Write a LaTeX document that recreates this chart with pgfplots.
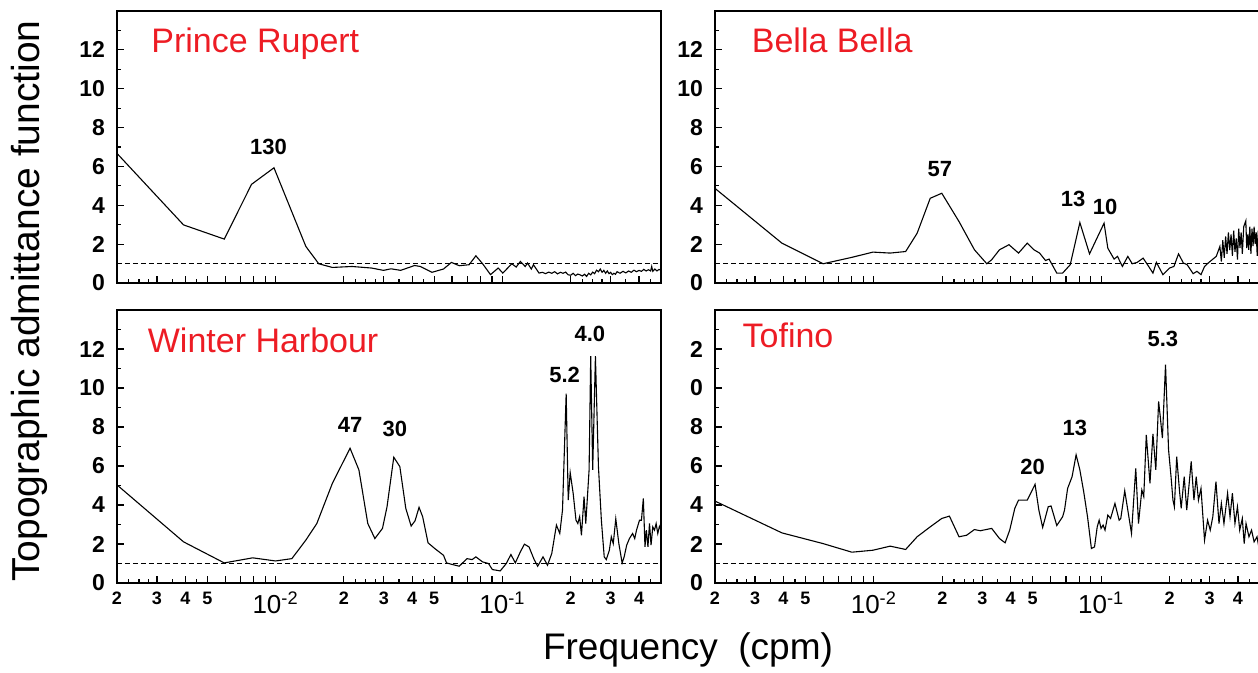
\documentclass[border=0pt]{standalone}
\usepackage{fontspec}
\setmainfont{Liberation Sans}
\usepackage{pgfplots}
\pgfplotsset{compat=1.18}
\definecolor{lblred}{RGB}{237,28,36}

\tikzset{
 curveln/.style={black, line width=0.55bp},
 reflln/.style={black, line width=0.55bp, dash pattern=on 2.5bp off 1.5bp},
 peaklbl/.style={font=\bfseries\fontsize{11bp}{12bp}\selectfont},
 ttllbl/.style={anchor=base west, inner sep=0pt, text=lblred, font=\fontsize{17bp}{20bp}\selectfont},
}
\newcommand{\dec}[1]{{\mdseries\fontsize{13bp}{14bp}\selectfont 10\textsuperscript{#1}}}

\pgfplotsset{
 every axis/.append style={
  scale only axis,
  xmode=log, xmin=0.002, xmax=0.5, ymin=0, ymax=14,
  axis line style={line width=1bp},
  tick pos=left, tick align=inside,
  tick style={black, line width=0.6bp},
  major tick length=3.4bp, minor tick length=1.9bp,
  ytick={0,2,4,6,8,10,12}, minor ytick={1,3,5,7,9,11,13},
  yticklabel style={font=\bfseries\fontsize{11.5bp}{12bp}\selectfont, xshift=-2.5bp},
  xtick={0.002,0.003,0.004,0.005,0.006,0.007,0.008,0.009,0.01,0.02,0.03,0.04,0.05,0.06,0.07,0.08,0.09,0.1,0.2,0.3,0.4,0.5},
  minor xtick={0.00225,0.0025,0.00275,0.0035,0.0045,0.0225,0.025,0.0275,0.035,0.045,0.225,0.25,0.275,0.35,0.45},
  xticklabel style={font=\bfseries\fontsize{9bp}{10bp}\selectfont, anchor=north, yshift=-1bp},
 },
}

\begin{document}
\begin{tikzpicture}
\useasboundingbox (0,0) rectangle (629bp,336.5bp);

% ---------------- Prince Rupert ----------------
\begin{axis}[width=272bp, height=136bp, at={(58.5bp,195bp)}, anchor=south west,
  yticklabels={0,2,4,6,8,10,12}, xticklabels={}]
\addplot[reflln] coordinates {(0.002,1) (0.5,1)};
\addplot[curveln] coordinates {
(0.002,6.67) (0.00393,2.99) (0.00594,2.26) (0.00784,5.08) (0.00984,5.93) (0.0136,1.88) (0.0155,0.99) (0.0178,0.80) (0.0217,0.85) (0.0265,0.77) (0.0299,0.65) (0.0323,0.73) (0.0356,0.65) (0.041,0.9) (0.0435,0.85) (0.0489,0.55) (0.055,0.72) (0.0596,1.06) (0.0645,0.89) (0.0713,0.94) (0.0764,1.40) (0.0818,0.99) (0.0886,0.43) (0.0958,0.77) (0.1004,0.51) (0.110,0.99) (0.115,0.82) (0.120,1.11) (0.126,0.85) (0.129,1.03) (0.134,0.72) (0.137,0.94) (0.145,0.51)
(0.15,0.55) (0.155,0.48) (0.16,0.56) (0.165,0.5) (0.17,0.58) (0.175,0.47) (0.18,0.55) (0.185,0.5) (0.19,0.56) (0.195,0.42) (0.2,0.4) (0.205,0.5) (0.21,0.38) (0.215,0.46) (0.22,0.42) (0.225,0.36) (0.23,0.45) (0.235,0.34) (0.24,0.5) (0.245,0.42) (0.25,0.56) (0.255,0.48) (0.26,0.66) (0.265,0.58) (0.27,0.72) (0.275,0.55) (0.28,0.65) (0.285,0.5) (0.29,0.62) (0.295,0.48) (0.3,0.55) (0.305,0.43) (0.31,0.5) (0.315,0.45) (0.32,0.58) (0.33,0.5) (0.34,0.6) (0.35,0.52) (0.36,0.62) (0.37,0.55) (0.38,0.66) (0.39,0.58) (0.4,0.65) (0.41,0.6) (0.42,0.7) (0.43,0.62) (0.44,0.68) (0.45,0.62) (0.455,0.85) (0.46,0.6) (0.47,0.72) (0.48,0.62) (0.49,0.7) (0.5,0.65)
};
\node[ttllbl] at (rel axis cs:0.0625,0.849) {Prince Rupert};
\node[peaklbl] at (axis cs:0.0093,7.0) {130};
\end{axis}

% ---------------- Bella Bella ----------------
\begin{axis}[width=272.5bp, height=136bp, at={(357.5bp,195bp)}, anchor=south west,
  yticklabels={0,2,4,6,8,10,12}, xticklabels={}]
\addplot[reflln] coordinates {(0.002,1) (0.5,1)};
\addplot[curveln] coordinates {
(0.002,4.87) (0.00394,2.05) (0.00598,0.99) (0.008,1.32) (0.0099,1.59) (0.0118,1.54) (0.0138,1.62) (0.0155,2.56) (0.0177,4.36) (0.0199,4.62) (0.0237,3.16) (0.0277,1.71) (0.0314,0.99) (0.033,1.2) (0.0357,1.71) (0.0393,1.97) (0.0433,1.54) (0.0473,2.05) (0.0506,1.71) (0.0536,1.54) (0.0569,1.16) (0.059,1.23) (0.0638,0.51) (0.0677,0.51) (0.0731,0.94) (0.0806,3.11) (0.0889,1.50) (0.103,3.08) (0.107,1.79) (0.114,1.23) (0.118,1.37) (0.124,0.85) (0.131,1.37) (0.137,0.99) (0.144,1.06) (0.153,1.28) (0.16,0.94) (0.169,0.51) (0.175,1.06) (0.187,0.43) (0.2,0.77) (0.209,0.85) (0.219,1.50) (0.23,1.03) (0.239,0.94) (0.254,0.48) (0.264,0.6) (0.275,0.43) (0.285,0.85) (0.296,1.03) (0.308,1.2) (0.321,1.37) (0.333,1.88)
(0.338,1.1) (0.343,2.2) (0.348,1.3) (0.353,2.4) (0.358,1.5) (0.363,2.6) (0.368,1.7) (0.373,2.5) (0.378,1.4) (0.383,2.7) (0.388,1.6) (0.393,2.3) (0.398,1.2) (0.403,2.8) (0.408,1.8) (0.413,2.6) (0.418,1.5) (0.424,2.9) (0.433,3.2) (0.437,1.8) (0.442,2.5) (0.446,1.7) (0.451,2.9) (0.456,1.5) (0.461,2.8) (0.466,1.9) (0.471,2.9) (0.476,2.0) (0.481,2.6) (0.486,1.4) (0.491,2.7) (0.496,1.8) (0.5,2.2)
};
\node[ttllbl] at (rel axis cs:0.067,0.849) {Bella Bella};
\node[peaklbl] at (axis cs:0.0195,5.86) {57};
\node[peaklbl] at (axis cs:0.0752,4.32) {13};
\node[peaklbl] at (axis cs:0.104,3.93) {10};
\end{axis}

% ---------------- Winter Harbour ----------------
\begin{axis}[width=272bp, height=136.5bp, at={(58.5bp,45bp)}, anchor=south west,
  yticklabels={0,2,4,6,8,10,12},
  xticklabels={2,3,4,5,,,,,\dec{-2},2,3,4,5,,,,,\dec{-1},2,3,4,}]
\addplot[reflln] coordinates {(0.002,1) (0.5,1)};
\addplot[curveln] coordinates {
(0.002,5.03) (0.00393,2.11) (0.00594,1.03) (0.00793,1.29) (0.01,1.13) (0.0118,1.25) (0.0136,2.2) (0.0152,3.05) (0.0178,5.11) (0.0213,6.91) (0.0233,5.80) (0.0255,3.05) (0.0274,2.28) (0.0296,2.80) (0.031,3.91) (0.0332,6.45) (0.0353,5.97) (0.0375,3.83) (0.0396,2.92) (0.0412,3.19) (0.0429,3.88) (0.0445,3.4) (0.047,2.06) (0.0503,1.77) (0.055,1.42) (0.0567,1.03) (0.0596,0.96) (0.0645,0.86) (0.0698,1.25) (0.0735,1.2) (0.0764,1.34) (0.0818,1.08) (0.0868,1.0) (0.0903,0.69) (0.0978,0.62) (0.104,1.0) (0.109,1.46) (0.114,1.03) (0.12,1.6) (0.125,1.99) (0.131,1.85) (0.138,1.2) (0.143,0.86) (0.151,1.34) (0.158,0.91) (0.165,1.51) (0.173,2.97) (0.179,2.54) (0.184,3.74) (0.191,9.71) (0.195,4.25) (0.199,5.66) (0.205,4.6) (0.211,3.22) (0.215,3.05) (0.219,3.4) (0.223,2.45) (0.229,4.43) (0.233,3.05) (0.238,4.77) (0.241,5.8) (0.245,11.63) (0.25,5.8) (0.257,11.63) (0.265,5.97) (0.273,3.22) (0.281,1.34) (0.287,1.2) (0.296,1.68) (0.302,2.37) (0.308,2.02) (0.316,3.29) (0.326,2.02) (0.337,1.03) (0.344,1.34) (0.353,1.94) (0.363,2.28) (0.375,2.54) (0.383,2.28) (0.39,2.71) (0.402,3.22) (0.41,3.22) (0.418,4.34) (0.425,1.85) (0.431,2.71) (0.438,1.85) (0.445,3.05) (0.452,1.94) (0.46,2.88) (0.468,2.71) (0.476,3.05) (0.484,2.54) (0.492,2.9) (0.5,2.71)
};
\node[ttllbl] at (rel axis cs:0.056,0.846) {Winter Harbour};
\node[peaklbl] at (axis cs:0.0213,8.11) {47};
\node[peaklbl] at (axis cs:0.0336,7.89) {30};
\node[peaklbl] at (axis cs:0.188,10.69) {5.2};
\node[peaklbl] at (axis cs:0.243,12.78) {4.0};
\end{axis}

% ---------------- Tofino ----------------
\begin{axis}[width=272.5bp, height=136.5bp, at={(357.5bp,45bp)}, anchor=south west,
  yticklabels={0,2,4,6,8,0,2},
  xticklabels={2,3,4,5,,,,,\dec{-2},2,3,4,5,,,,,\dec{-1},2,3,4,}]
\addplot[reflln] coordinates {(0.002,1) (0.5,1)};
\addplot[curveln] coordinates {
(0.002,4.2) (0.00394,2.57) (0.00598,2.02) (0.008,1.58) (0.0099,1.68) (0.0118,1.89) (0.0138,1.72) (0.0155,2.37) (0.0177,2.88) (0.0199,3.31) (0.0215,3.43) (0.0237,2.37) (0.0256,2.45) (0.0277,2.74) (0.0294,2.68) (0.033,2.8) (0.0357,2.28) (0.0378,2.06) (0.0396,2.71) (0.0417,3.83) (0.0433,4.25) (0.0473,4.25) (0.0512,5.06) (0.0532,3.74) (0.0553,2.85) (0.0585,3.91) (0.0602,3.95) (0.0638,2.95) (0.0677,3.4) (0.069,3.74) (0.0712,4.85) (0.0745,5.45) (0.0776,6.57) (0.0806,5.8) (0.0838,4.68) (0.0871,3.4) (0.0906,1.77) (0.0935,1.85) (0.0961,2.88) (0.098,3.22) (0.0999,2.8) (0.102,2.97) (0.104,2.71) (0.107,3.48) (0.110,3.31) (0.115,4.08) (0.12,3.22) (0.122,3.31) (0.127,4.73) (0.131,3.74) (0.136,2.54) (0.142,5.88) (0.146,3.05) (0.151,4.77) (0.154,4.43) (0.158,7.6) (0.164,5.11) (0.169,7.65) (0.174,5.8) (0.179,9.31) (0.182,8.54) (0.186,7.43) (0.192,11.2) (0.198,6.83) (0.203,5.45) (0.207,4.25) (0.21,3.91) (0.215,6.48) (0.221,4.77) (0.225,3.83) (0.232,5.45) (0.238,3.74) (0.249,6.23) (0.256,4.25) (0.262,5.45) (0.268,4.25) (0.275,4.85) (0.285,2.2) (0.294,3.22) (0.302,2.71) (0.31,3.4) (0.32,5.2) (0.33,3.05) (0.338,4.08) (0.347,3.05) (0.36,4.6) (0.369,3.4) (0.378,4.6) (0.388,3.05) (0.398,3.91) (0.407,2.71) (0.418,3.31) (0.426,2.02) (0.434,3.05) (0.447,2.37) (0.459,2.71) (0.471,2.11) (0.485,2.37) (0.5,1.51)
};
\node[ttllbl] at (rel axis cs:0.05,0.861) {Tofino};
\node[peaklbl] at (axis cs:0.05,5.97) {20};
\node[peaklbl] at (axis cs:0.0766,7.94) {13};
\node[peaklbl] at (axis cs:0.187,12.52) {5.3};
\end{axis}

\node[rotate=90, font=\fontsize{19.5bp}{21bp}\selectfont] at (14.5bp,186bp) {Topographic admittance function};
\node[font=\fontsize{18.5bp}{20bp}\selectfont] at (344bp,11.5bp) {Frequency\ \ (cpm)};
\end{tikzpicture}
\end{document}
